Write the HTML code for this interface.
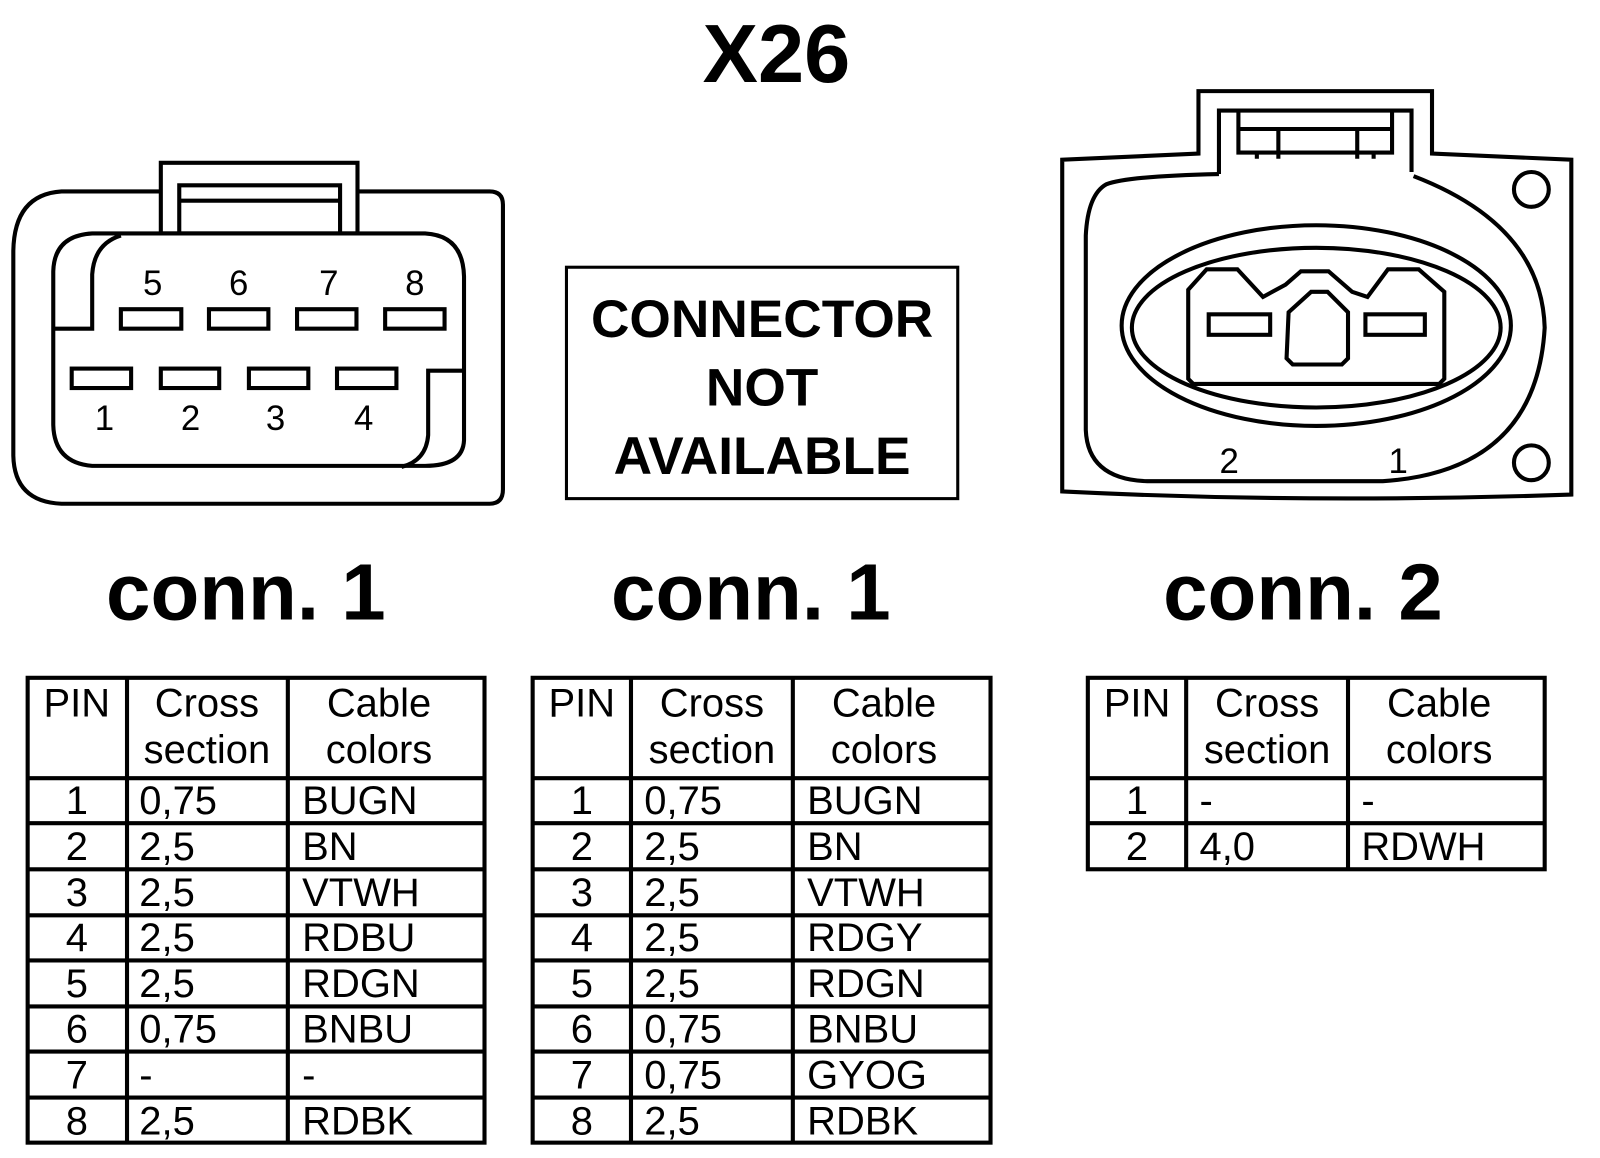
<!DOCTYPE html>
<html><head><meta charset="utf-8"><style>
html,body{margin:0;padding:0;background:#fff;}
svg{display:block;}
text{font-family:"Liberation Sans",Arial,sans-serif;fill:#000;}
</style></head><body>
<svg width="1600" height="1158" viewBox="0 0 1562 1131" preserveAspectRatio="none" xmlns="http://www.w3.org/2000/svg">
<rect width="1562" height="1131" fill="#fff"/>
<text x="758" y="80" font-size="81" font-weight="bold" text-anchor="middle">X26</text>

<!-- Connector 1 -->
<g fill="none" stroke="#000" stroke-width="4">
<path d="M157,187 L60,187 Q14,190 13,245 L13,445 Q14,490 60,492 L478,492 Q491,492 491,478 L491,200 Q491,187 478,187 L349,187"/>
<rect x="157" y="159" width="192" height="69"/>
<path d="M175,228 L175,181 L332,181 L332,228 M175,196 L332,196"/>
<path d="M115,228 L415,228 Q452,230 453,270 L453,430 Q452,455 415,455 L90,455 Q53,452 52,415 L52,265 Q53,230 90,228 Z"/>
<path d="M52,321 L90,321 L90,268 Q92,238 118,230"/>
<path d="M453,362 L418,362 L418,425 Q416,450 392,456"/>
<rect x="118" y="302" width="59" height="19"/><rect x="204" y="302" width="58" height="19"/>
<rect x="290" y="302" width="58" height="19"/><rect x="376" y="302" width="58" height="19"/>
<rect x="70" y="360" width="58" height="19"/><rect x="157" y="360" width="57" height="19"/>
<rect x="243" y="360" width="58" height="19"/><rect x="329" y="360" width="58" height="19"/>
</g>
<g font-size="34" text-anchor="middle">
<text x="149" y="288">5</text><text x="233" y="288">6</text><text x="321" y="288">7</text><text x="405" y="288">8</text>
<text x="102" y="420">1</text><text x="186" y="420">2</text><text x="269" y="420">3</text><text x="355" y="420">4</text>
</g>

<!-- Not available -->
<rect x="553" y="261" width="382" height="226" fill="none" stroke="#000" stroke-width="3"/>
<g font-size="52" font-weight="bold" text-anchor="middle">
<text x="744" y="329">CONNECTOR</text><text x="744" y="396">NOT</text><text x="744" y="463">AVAILABLE</text>
</g>

<!-- Connector 2 -->
<g fill="none" stroke="#000" stroke-width="4">
<path d="M1170,150 L1037,156 L1037,480 Q1280,492 1534,483 L1534,156 L1398,150 L1398,89 L1170,89 Z"/>
<path d="M1190,170 L1190,108 L1378,108 L1378,168"/>
<path d="M1209,108 L1209,149 L1359,149 L1359,108 M1209,126 L1359,126 M1248,126 L1248,155 M1325,126 L1325,155 M1209,149 L1227,149 L1227,155 M1359,149 L1341,149 L1341,155"/>
<path d="M1190,170 Q1100,172 1080,180 Q1062,190 1060,230 L1060,420 Q1062,468 1120,470 L1350,470 Q1500,460 1508,320 Q1505,220 1380,172"/>
<ellipse cx="1285" cy="318" rx="190" ry="98"/>
<ellipse cx="1285" cy="320" rx="180" ry="78"/>
<path d="M1160,283 L1178,263 L1208,263 L1233,290 L1255,278 L1270,265 L1297,265 L1320,285 L1335,290 L1355,263 L1385,263 L1410,285 L1410,370 L1405,375 L1165,375 L1160,370 Z"/>
<path d="M1258,305 L1280,285 L1296,285 L1316,305 L1316,350 L1310,356 L1262,356 L1256,350 Z"/>
<rect x="1180" y="307" width="60" height="20"/>
<rect x="1333" y="307" width="58" height="20"/>
<circle cx="1495" cy="185" r="17"/>
<circle cx="1495" cy="452" r="17"/>
</g>
<g font-size="34" text-anchor="middle"><text x="1200" y="462">2</text><text x="1365" y="462">1</text></g>

<g font-size="78" font-weight="bold" text-anchor="middle">
<text x="240" y="605">conn. 1</text><text x="733" y="605">conn. 1</text><text x="1272" y="605">conn. 2</text>
</g>

<!-- Tables -->
<g fill="none" stroke="#000" stroke-width="4">
<rect x="27" y="662" width="446" height="454"/>
<path d="M124,662 V1116 M281,662 V1116 M27,760 H473 M27,804 H473 M27,849 H473 M27,894 H473 M27,938 H473 M27,983 H473 M27,1027 H473 M27,1072 H473"/>
<rect x="520" y="662" width="447" height="454"/>
<path d="M616,662 V1116 M774,662 V1116 M520,760 H967 M520,804 H967 M520,849 H967 M520,894 H967 M520,938 H967 M520,983 H967 M520,1027 H967 M520,1072 H967"/>
<rect x="1062" y="662" width="446" height="187"/>
<path d="M1158,662 V849 M1316,662 V849 M1062,760 H1508 M1062,804 H1508"/>
</g>
<g font-size="39">
<g text-anchor="middle">
<text x="75" y="700">PIN</text><text x="202" y="700">Cross</text><text x="202" y="745">section</text><text x="370" y="700">Cable</text><text x="370" y="745">colors</text>
<text x="568" y="700">PIN</text><text x="695" y="700">Cross</text><text x="695" y="745">section</text><text x="863" y="700">Cable</text><text x="863" y="745">colors</text>
<text x="1110" y="700">PIN</text><text x="1237" y="700">Cross</text><text x="1237" y="745">section</text><text x="1405" y="700">Cable</text><text x="1405" y="745">colors</text>
</g>
<g text-anchor="middle">
<text x="75" y="795">1</text><text x="75" y="840">2</text><text x="75" y="885">3</text><text x="75" y="929">4</text><text x="75" y="974">5</text><text x="75" y="1018">6</text><text x="75" y="1063">7</text><text x="75" y="1108">8</text>
<text x="568" y="795">1</text><text x="568" y="840">2</text><text x="568" y="885">3</text><text x="568" y="929">4</text><text x="568" y="974">5</text><text x="568" y="1018">6</text><text x="568" y="1063">7</text><text x="568" y="1108">8</text>
<text x="1110" y="795">1</text><text x="1110" y="840">2</text>
</g>
<text x="136" y="795">0,75</text><text x="136" y="840">2,5</text><text x="136" y="885">2,5</text><text x="136" y="929">2,5</text><text x="136" y="974">2,5</text><text x="136" y="1018">0,75</text><text x="136" y="1063">-</text><text x="136" y="1108">2,5</text>
<text x="295" y="795">BUGN</text><text x="295" y="840">BN</text><text x="295" y="885">VTWH</text><text x="295" y="929">RDBU</text><text x="295" y="974">RDGN</text><text x="295" y="1018">BNBU</text><text x="295" y="1063">-</text><text x="295" y="1108">RDBK</text>
<text x="629" y="795">0,75</text><text x="629" y="840">2,5</text><text x="629" y="885">2,5</text><text x="629" y="929">2,5</text><text x="629" y="974">2,5</text><text x="629" y="1018">0,75</text><text x="629" y="1063">0,75</text><text x="629" y="1108">2,5</text>
<text x="788" y="795">BUGN</text><text x="788" y="840">BN</text><text x="788" y="885">VTWH</text><text x="788" y="929">RDGY</text><text x="788" y="974">RDGN</text><text x="788" y="1018">BNBU</text><text x="788" y="1063">GYOG</text><text x="788" y="1108">RDBK</text>
<text x="1171" y="795">-</text><text x="1171" y="840">4,0</text>
<text x="1329" y="795">-</text><text x="1329" y="840">RDWH</text>
</g>
</svg>
</body></html>
